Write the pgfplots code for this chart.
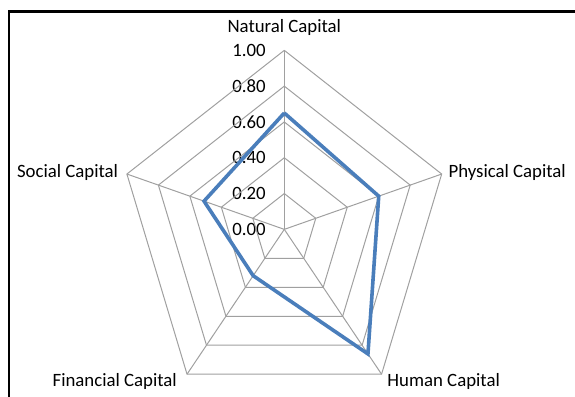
\documentclass[border=0pt]{standalone}
\usepackage{fontspec}
\setmainfont{Carlito}
\usepackage{pgfplots}
\pgfplotsset{compat=1.18}

\definecolor{seriesblue}{HTML}{4A7EBB}
\definecolor{gridgray}{HTML}{A0A0A0}

\begin{document}
\begin{tikzpicture}
  % page area and chart frame (frame runs past the right and bottom edges)
  \useasboundingbox (-213.2pt,-125pt) rectangle (218pt,172pt);
  \draw[line width=1.8pt] (-206.5pt,-140pt) -- (-206.5pt,163.5pt) -- (240pt,163.5pt);

  \begin{axis}[
    at={(0pt,0pt)}, anchor=origin,
    x=124.1pt, y=134.25pt,
    xmin=-1, xmax=1, ymin=-0.81, ymax=1,
    axis x line=none, axis y line=center,
    y axis line style={draw=none},
    hide obscured y ticks=false,
    ytick={0,0.2,0.4,0.6,0.8,1},
    major tick length=0pt,
    yticklabel style={
      font=\fontsize{14.1}{16}\selectfont,
      anchor=east, inner sep=0pt, xshift=-13.7pt,
      /pgf/number format/.cd, fixed, fixed zerofill, precision=2,
      assume math mode=true},
    clip=false,
    every axis plot/.append style={data cs=polar},
  ]
    % rings of the radar grid
    \addplot[gridgray, line width=0.75pt, mark=none] coordinates
      {(90,0.2) (18,0.2) (-54,0.2) (-126,0.2) (162,0.2) (90,0.2)};
    \addplot[gridgray, line width=0.75pt, mark=none] coordinates
      {(90,0.4) (18,0.4) (-54,0.4) (-126,0.4) (162,0.4) (90,0.4)};
    \addplot[gridgray, line width=0.75pt, mark=none] coordinates
      {(90,0.6) (18,0.6) (-54,0.6) (-126,0.6) (162,0.6) (90,0.6)};
    \addplot[gridgray, line width=0.75pt, mark=none] coordinates
      {(90,0.8) (18,0.8) (-54,0.8) (-126,0.8) (162,0.8) (90,0.8)};
    \addplot[gridgray, line width=0.75pt, mark=none] coordinates
      {(90,1) (18,1) (-54,1) (-126,1) (162,1) (90,1)};
    % spokes
    \addplot[gridgray, line width=0.75pt, mark=none] coordinates {(90,0) (90,1)};
    \addplot[gridgray, line width=0.75pt, mark=none] coordinates {(18,0) (18,1)};
    \addplot[gridgray, line width=0.75pt, mark=none] coordinates {(-54,0) (-54,1)};
    \addplot[gridgray, line width=0.75pt, mark=none] coordinates {(-126,0) (-126,1)};
    \addplot[gridgray, line width=0.75pt, mark=none] coordinates {(162,0) (162,1)};

    % capital scores: Natural, Physical, Human, Financial, Social
    \addplot[seriesblue, line width=2.7pt, mark=none] coordinates
      {(90,0.65) (18,0.60) (-54,0.86) (-126,0.32) (162,0.51) (90,0.65)};

    % category labels
    \begin{scope}[every node/.style={font=\fontsize{14.1}{16}\selectfont, inner sep=0pt}]
      \node[anchor=center] at (axis cs:0,1.128) {Natural Capital};
      \node[anchor=west]   at (axis cs:0.991,0.32) {Physical Capital};
      \node[anchor=west]   at (axis cs:0.622,-0.847) {Human Capital};
      \node[anchor=east]   at (axis cs:-0.648,-0.847) {Financial Capital};
      \node[anchor=east]   at (axis cs:-1.003,0.32) {Social Capital};
    \end{scope}
  \end{axis}
\end{tikzpicture}
\end{document}
